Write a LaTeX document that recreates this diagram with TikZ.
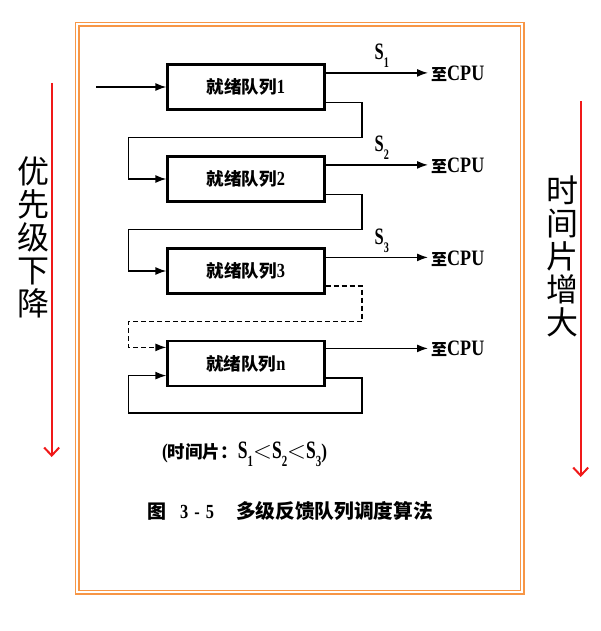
\documentclass[tikz,border=0pt]{standalone}
\usepackage{fontspec}
\setmainfont{Liberation Serif}
\newfontfamily\cjk{Noto Sans CJK SC}
\newfontfamily\condA{Liberation Serif}[FakeStretch=0.7]
\newfontfamily\condB{Liberation Serif}[FakeStretch=0.82]
\usetikzlibrary{arrows.meta}
\definecolor{framecol}{RGB}{247,150,70}
\definecolor{markred}{RGB}{240,25,25}
% S with a lowered index, in the narrow book face
\newcommand{\Sidx}[2]{{\condA\bfseries\fontsize{#2}{#2}\selectfont S\raisebox{-0.32em}{\fontsize{0.62em}{1em}\selectfont #1}}}
\newcommand{\lessthan}{{\fontsize{23}{23}\selectfont\(<\)}}
\tikzset{
  queue/.style={draw, line width=2.2pt, minimum width=157pt, minimum height=45pt, inner sep=0pt},
  link/.style={line width=1.5pt},
  flow/.style={link, -{Latex[length=11pt,width=8pt]}},
  target/.style={anchor=west, inner xsep=3pt, inner ysep=0pt},
  tag/.style={anchor=base west, inner sep=0pt},
  sidetext/.style={align=center, inner sep=0pt, font=\cjk\fontsize{32}{33}\selectfont},
  trend/.style={markred, line width=2pt, -{Straight Barb[length=8pt,width=15pt]}},
  framepen/.style={framecol, line width=1.5pt}
}
\newcommand{\qlabel}[1]{{\cjk\bfseries\fontsize{17.5}{18}\selectfont 就绪队列}{\condB\bfseries\fontsize{20}{20}\selectfont #1}}
\newcommand{\tocpu}{{\cjk\bfseries\fontsize{16}{16}\selectfont 至}{\condB\bfseries\fontsize{22}{22}\selectfont CPU}}
\begin{document}
\begin{tikzpicture}[x=1pt,y=-1pt]
\useasboundingbox (0,0) rectangle (601,631);
% double frame
\draw[framepen] (75.5,22.5) rectangle (524,594);
\draw[framepen, line width=1.2pt] (79,26) rectangle (520.5,590.5);

% ready queues
\node[queue] (q1) at (246,87)    {\qlabel{1}};
\node[queue] (q2) at (246,179)   {\qlabel{2}};
\node[queue] (q3) at (246,271)   {\qlabel{3}};
\node[queue] (qn) at (246,363.5) {\qlabel{n}};

% entry
\coordinate (entry) at (96,87);
\draw[flow] (entry) -- (q1.west);

% dispatch to the CPU
\node[target] (c1) at (428,74)    {\tocpu};
\node[target] (c2) at (428,166)   {\tocpu};
\node[target] (c3) at (428,258.5) {\tocpu};
\node[target] (cn) at (428,349)   {\tocpu};
\coordinate (o1) at ([yshift=-9.5pt]q1.north east);
\coordinate (o2) at ([yshift=-9.5pt]q2.north east);
\coordinate (o3) at ([yshift=-10pt]q3.north east);
\coordinate (on) at ([yshift=-8.5pt]qn.north east);
\draw[flow] (o1) -- (o1 -| c1.west);
\draw[flow] (o2) -- (o2 -| c2.west);
\draw[flow] (o3) -- (o3 -| c3.west);
\draw[flow] (on) -- (on -| cn.west);

% time slices
\node[tag] (s1) at (374.5,60)    {\Sidx{1}{23.5}};
\node[tag] (s2) at (374.5,152)   {\Sidx{2}{23.5}};
\node[tag] (s3) at (374.5,244.5) {\Sidx{3}{23.5}};

% demotion to the next queue
\draw[flow] ([yshift=8pt]q1.south east) -| (362,137.5) -- (128.5,137.5) |- (q2.west);
\draw[flow] ([yshift=8pt]q2.south east) -| (362,229.5) -- (128.5,229.5) |- (q3.west);
\draw[flow, dash pattern=on 5pt off 3pt] ([yshift=8.5pt]q3.south east) -| (362,321.5) -- (128.5,321.5) |- ([yshift=-7.5pt]qn.north west);
\draw[flow] ([yshift=9pt]qn.south east) -| (362,413) -- (128.5,413) |- ([yshift=11.5pt]qn.south west);

% note and caption
\node[tag] (note) at (162,458)
  {{\condB\bfseries\fontsize{21}{21}\selectfont (}{\cjk\bfseries\fontsize{17.5}{18}\selectfont 时间片：}\Sidx{1}{25}\lessthan\Sidx{2}{25}\lessthan\Sidx{3}{25}{\condB\bfseries\fontsize{21}{21}\selectfont )}};
\node[anchor=west, inner sep=0pt] (caption) at (147,511)
  {{\cjk\bfseries\fontsize{19}{19}\selectfont 图}\hspace{14pt}{\condB\bfseries\fontsize{20}{20}\selectfont 3\hspace{6pt}-\hspace{6pt}5}\hspace{22pt}{\cjk\bfseries\fontsize{19.7}{19.7}\selectfont 多级反馈队列调度算法}};

% side trends
\node[sidetext] (prio) at (33,237.5) {优\\先\\级\\下\\降};
\node[sidetext] (slice) at (562.5,256) {时\\间\\片\\增\\大};
\coordinate (pTop) at (51.7,83);
\coordinate (pEnd) at (51.7,457);
\coordinate (tTop) at (580.7,101.5);
\coordinate (tEnd) at (580.7,477);
\draw[trend] (pTop) -- (pEnd);
\draw[trend] (tTop) -- (tEnd);
\end{tikzpicture}
\end{document}
